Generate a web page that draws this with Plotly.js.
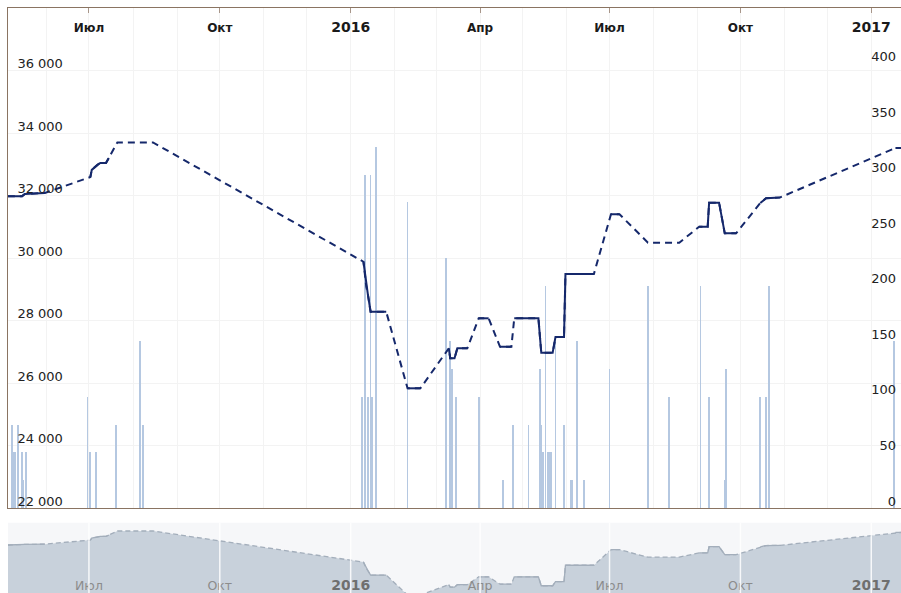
<!DOCTYPE html>
<html>
<head>
<meta charset="utf-8">
<script src="https://cdn.plot.ly/plotly-3.0.1.min.js"></script>
<style>
html,body{margin:0;padding:0;overflow:hidden;background:#ffffff;}
#chart{width:901px;height:593px;}
</style>
</head>
<body>
<div id="chart"></div>
<script>
// ---- price series (left axis) ----
const priceDates = [
  '2015-05-05','2015-05-15','2015-05-17','2015-05-31',
  '2015-07-02','2015-07-03','2015-07-07','2015-07-09','2015-07-13','2015-07-15',
  '2015-07-21','2015-08-15',
  '2016-01-10','2016-01-12','2016-01-13','2016-01-15','2016-01-26',
  '2016-02-10','2016-02-19',
  '2016-03-10','2016-03-11','2016-03-14','2016-03-16','2016-03-23',
  '2016-03-31','2016-04-07',
  '2016-04-15','2016-04-23',
  '2016-04-25','2016-05-12','2016-05-14','2016-05-22','2016-05-24','2016-05-30','2016-05-31','2016-06-20',
  '2016-07-02','2016-07-08',
  '2016-07-28','2016-08-19',
  '2016-09-02','2016-09-08','2016-09-09','2016-09-16','2016-09-20','2016-09-28',
  '2016-10-15','2016-10-19','2016-10-29',
  '2017-01-18','2017-01-22'
];
const priceValues = [
  31980,31980,32050,32080,
  32590,32820,32980,33040,33040,33200,
  33700,33700,
  29880,29080,28870,28280,28280,
  25830,25830,
  27110,26790,26790,27110,27110,
  28070,28070,
  27160,27160,
  28070,28070,26970,26970,27470,27470,29490,29490,
  31400,31400,
  30490,30490,
  31000,31000,31770,31770,30790,30790,
  31760,31910,31940,
  33520,33520
];
// index ranges of the price series drawn with a solid line (the rest is dashed)
const solidRuns = [[0,3],[4,9],[12,16],[17,18],[19,23],[24,25],[26,27],[28,35],[36,37],[40,45],[46,48],[49,50]];

// ---- volume series (right axis) ----
const volumeDates = [
  '2015-05-08','2015-05-09','2015-05-10','2015-05-12','2015-05-15','2015-05-16','2015-05-18',
  '2015-06-30','2015-07-02','2015-07-06','2015-07-20','2015-08-06','2015-08-08',
  '2016-01-09','2016-01-11','2016-01-13','2016-01-15','2016-01-16','2016-01-19',
  '2016-02-10','2016-03-08','2016-03-11','2016-03-12','2016-03-15','2016-03-31',
  '2016-04-17','2016-04-24','2016-05-05','2016-05-13','2016-05-14','2016-05-15','2016-05-17',
  '2016-05-19','2016-05-20','2016-05-21','2016-05-24','2016-05-30','2016-06-04','2016-06-05',
  '2016-06-08','2016-06-13','2016-07-01','2016-07-28','2016-08-12','2016-09-03','2016-09-09',
  '2016-09-20','2016-09-21','2016-10-15','2016-10-19','2016-10-21','2017-01-17'
];
const volumeValues = [
  75,50,50,75,50,25,50,
  100,50,50,75,150,75,
  100,300,100,300,100,325,
  275,225,150,125,100,100,
  25,75,75,125,75,50,200,
  50,50,50,150,75,25,25,
  150,25,125,200,100,200,100,
  25,125,100,100,200,150
];

// ---- axes ----
const tickDates  = ['2015-07-01','2015-10-01','2016-01-01','2016-04-01','2016-07-01','2016-10-01','2017-01-01'];
const tickLabels = ['Июл','Окт','2016','Апр','Июл','Окт','2017'];
const priceTicks = [22000,24000,26000,28000,30000,32000,34000,36000];
const volumeTicks = [0,50,100,150,200,250,300,350,400];
const xRange = ['2015-05-05 02:24','2017-01-21 21:36'];

// build helpers
const isYear = s => /^\d{4}$/.test(s);
const mainTickText = tickLabels.map(s => isYear(s) ? '<span style="font-size:14px">' + s + '</span>' : s);
const navTickText  = tickLabels.map(s => isYear(s) ? '<b><span style="font-size:14px;color:#6f6f6f">' + s + '</span></b>' : s);

function solidSeries() {
  const xs = [], ys = [];
  solidRuns.forEach(([a, b], k) => {
    if (k > 0) { xs.push(null); ys.push(null); }
    for (let i = a; i <= b; i++) { xs.push(priceDates[i]); ys.push(priceValues[i]); }
  });
  return {xs, ys};
}
const solid = solidSeries();

const lineColor = '#15286b';
const traces = [
  { // volume bars (base axis y, right side)
    type: 'bar', x: volumeDates, y: volumeValues, xaxis: 'x', yaxis: 'y',
    width: 1.25 * 86400000, marker: {color: '#b5c8e1', line: {width: 0}},
    hoverinfo: 'skip'
  },
  { // price dashed (whole series)
    type: 'scatter', mode: 'lines', x: priceDates, y: priceValues, xaxis: 'x', yaxis: 'y2',
    line: {color: lineColor, width: 2, dash: '7px,5px'}, hoverinfo: 'skip'
  },
  { // price solid segments
    type: 'scatter', mode: 'lines', x: solid.xs, y: solid.ys, xaxis: 'x', yaxis: 'y2',
    connectgaps: false, line: {color: lineColor, width: 2}, hoverinfo: 'skip'
  },
  { // navigator area
    type: 'scatter', mode: 'lines', x: priceDates, y: priceValues, xaxis: 'x2', yaxis: 'y3',
    fill: 'tozeroy', fillcolor: '#c8d1db',
    line: {color: '#a3aebb', width: 1.3, dash: '5px,3px'}, hoverinfo: 'skip'
  },
  { // navigator solid segments
    type: 'scatter', mode: 'lines', x: solid.xs, y: solid.ys, xaxis: 'x2', yaxis: 'y3',
    connectgaps: false, line: {color: '#a3aebb', width: 1.3}, hoverinfo: 'skip'
  }
];

const frameColor = '#8a7462';
const gridColor = '#f3f3f3';
const mainBottom = (593 - 508) / 585;
const navTop = (593 - 522.7) / 585;

const navLines = tickDates.map(d => ({
  type: 'line', xref: 'x2', yref: 'y3 domain', x0: d, x1: d, y0: 0, y1: 1,
  line: {color: 'rgba(255,255,255,0.85)', width: 1.5}, layer: 'above'
}));

const layout = {
  width: 901, height: 593,
  margin: {l: 8, r: 0, t: 8, b: 0, pad: 0},
  paper_bgcolor: '#ffffff', plot_bgcolor: 'rgba(0,0,0,0)',
  showlegend: false, separators: ', ', bargap: 0,
  xaxis: {
    type: 'date', range: xRange, side: 'top', anchor: 'y', domain: [0, 1],
    tickmode: 'array', tickvals: tickDates, ticktext: mainTickText,
    ticks: 'inside', ticklen: 5, tickcolor: '#a8968a', tickwidth: 1,
    ticklabelposition: 'inside', ticklabelstandoff: 10, ticklabeloverflow: 'allow',
    tickfont: {family: 'DejaVu Sans', size: 12, color: '#1a1a1a', weight: 'bold'},
    showline: true, linecolor: frameColor, linewidth: 1.2, mirror: true,
    showgrid: true, gridcolor: gridColor, gridwidth: 1,
    minor: {dtick: 'M1', tick0: '2015-01-01', showgrid: true, gridcolor: gridColor, ticks: ''},
    zeroline: false, fixedrange: true
  },
  yaxis: {
    domain: [mainBottom, 1], range: [0, 450], side: 'right', anchor: 'x',
    tickmode: 'array', tickvals: volumeTicks, tickformat: ',.0f',
    ticks: '', ticklabelposition: 'inside', ticklabelshift: -7, ticklabelstandoff: 2,
    ticklabeloverflow: 'allow',
    tickfont: {family: 'DejaVu Sans', size: 13, color: '#222'},
    showgrid: false, zeroline: false, showline: false, fixedrange: true
  },
  yaxis2: {
    overlaying: 'y', side: 'left', anchor: 'x', range: [22000, 38000],
    tickmode: 'array', tickvals: priceTicks, tickformat: ',.0f',
    ticks: '', ticklabelposition: 'inside', ticklabelshift: -7, ticklabelstandoff: 9,
    ticklabeloverflow: 'allow',
    tickfont: {family: 'DejaVu Sans', size: 13, color: '#222'},
    showgrid: true, gridcolor: gridColor, gridwidth: 1,
    showline: true, linecolor: frameColor, linewidth: 1.2,
    zeroline: false, fixedrange: true
  },
  xaxis2: {
    type: 'date', range: xRange, side: 'bottom', anchor: 'y3', domain: [0, 1],
    tickmode: 'array', tickvals: tickDates, ticktext: navTickText,
    ticks: '', ticklabelposition: 'inside', ticklabeloverflow: 'allow', ticklabelstandoff: -2,
    tickfont: {family: 'DejaVu Sans', size: 12.5, color: '#8c8c8c'},
    showline: false, showgrid: false, zeroline: false, fixedrange: true
  },
  yaxis3: {
    domain: [0, navTop], range: [26080, 34720], anchor: 'x2',
    showticklabels: false, ticks: '', showgrid: false, zeroline: false, showline: false, fixedrange: true
  },
  shapes: [{
    type: 'rect', xref: 'x2 domain', yref: 'y3 domain', x0: 0, x1: 1, y0: 0, y1: 1,
    fillcolor: '#f6f7f9', line: {width: 0}, layer: 'below'
  }].concat(navLines)
};

Plotly.newPlot('chart', traces, layout, {displayModeBar: false, staticPlot: true});
</script>
</body>
</html>
